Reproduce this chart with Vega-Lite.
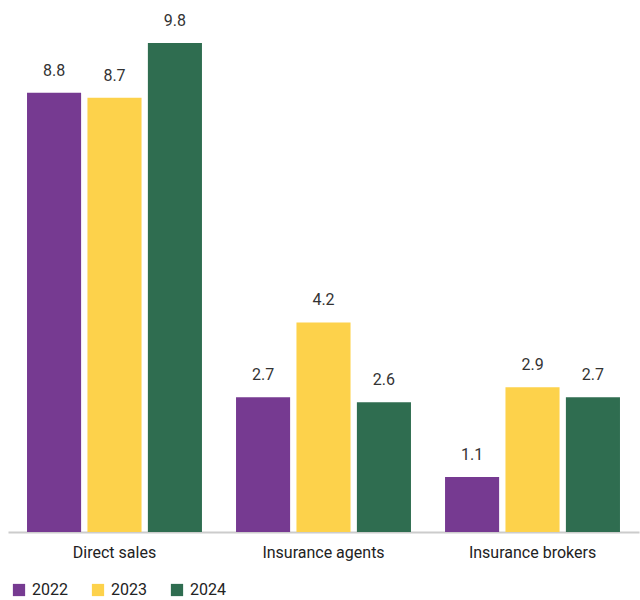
{
  "$schema": "https://vega.github.io/schema/vega-lite/v6.json",
  "width": 631,
  "height": 524,
  "autosize": "none",
  "padding": {"left": 8, "top": 8, "right": 1, "bottom": 68},
  "config": {"view": {"stroke": null}, "font": "Roboto"},
  "data": {"values": [
    {"channel": "Direct sales", "year": "2022", "value": 8.8},
    {"channel": "Direct sales", "year": "2023", "value": 8.7},
    {"channel": "Direct sales", "year": "2024", "value": 9.8},
    {"channel": "Insurance agents", "year": "2022", "value": 2.7},
    {"channel": "Insurance agents", "year": "2023", "value": 4.2},
    {"channel": "Insurance agents", "year": "2024", "value": 2.6},
    {"channel": "Insurance brokers", "year": "2022", "value": 1.1},
    {"channel": "Insurance brokers", "year": "2023", "value": 2.9},
    {"channel": "Insurance brokers", "year": "2024", "value": 2.7}
  ]},
  "encoding": {
    "x": {"field": "channel", "type": "nominal", "title": null,
      "scale": {"paddingInner": 0.163, "paddingOuter": 0.091},
      "axis": {"labelAngle": 0, "labelFontSize": 16, "labelColor": "#222", "labelPadding": 12, "ticks": false, "domainColor": "#cccccc", "domainWidth": 2}},
    "xOffset": {"field": "year", "type": "nominal", "scale": {"paddingInner": 0.105, "paddingOuter": 0}},
    "y": {"field": "value", "type": "quantitative", "scale": {"domain": [0, 10.5]}, "axis": null}
  },
  "layer": [
    {"mark": {"type": "bar"},
     "encoding": {"color": {"field": "year", "type": "nominal",
        "scale": {"domain": ["2022", "2023", "2024"], "range": ["#763a91", "#fdd24b", "#2f6d50"]},
        "legend": {"title": null, "orient": "none", "direction": "horizontal", "legendX": 3, "legendY": 574,
          "symbolType": "square", "symbolSize": 150, "symbolOpacity": 1, "labelFontSize": 16, "labelColor": "#222", "columnPadding": 22, "labelOffset": 5}}}},
    {"mark": {"type": "text", "dy": -22, "fontSize": 16, "color": "#333"},
     "encoding": {"text": {"field": "value", "type": "quantitative", "format": ".1f"}}}
  ]
}
